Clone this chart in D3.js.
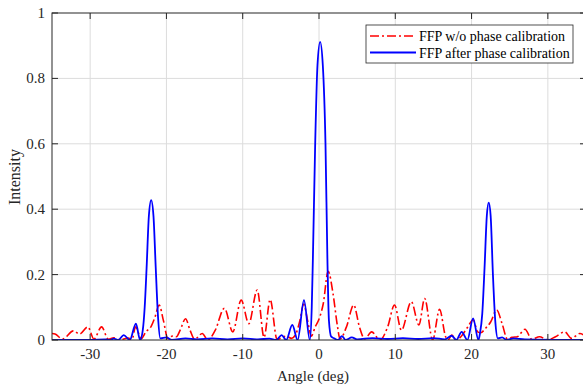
<!DOCTYPE html>
<html>
<head>
<meta charset="utf-8">
<script src="https://cdn.jsdelivr.net/npm/d3@7"></script>
<style>
  body { margin: 0; background: #fff; }
  svg { display: block; font-family: "Liberation Serif", "Times New Roman", serif; }
</style>
</head>
<body>
<div id="chart"></div>
<script>
// FFP w/o phase calibration (red, dash-dot)
const redAngles = [-35, -34.6, -33.6, -32.2, -31.4, -30.3, -29.5, -28.5, -27.6, -26.9, -26.2, -25.0, -24.5, -24.05, -23.3,
  -22.7, -22.0, -21.5, -20.95, -20.4, -19.8, -19.2, -18.7, -18.2, -17.5, -16.9, -16.3, -15.3, -14.6, -13.6, -12.4,
  -11.3, -10.2, -9.2, -8.1, -7.2, -6.4, -5.5, -4.3, -3.6, -3.0, -2.5, -2.0, -1.5, -1.0, -0.5, 0.1, 0.55, 1.2,
  1.85, 2.4, 2.75, 3.6, 4.55, 5.3, 6.0, 6.9, 8.0, 9.0, 9.9, 10.8, 12.1, 13.1, 13.85, 14.9, 15.8, 16.6, 16.9, 17.4,
  18.0, 18.6, 19.5, 20.2, 20.8, 21.2, 21.8, 22.5, 23.3, 24.0, 24.7, 25.3, 26.0, 27.0, 27.9, 28.9, 30.0, 31.0, 32.2,
  33.1, 34.2, 35];
const redValues = [0.02, 0.018, 0.003, 0.028, 0.018, 0.04, 0.003, 0.04, 0.002, 0.007, 0.0, 0.006, 0.002, 0.04, 0.004,
  0.025, 0.042, 0.07, 0.107, 0.06, 0.004, 0.012, 0.01, 0.03, 0.065, 0.03, 0.002, 0.02, 0.0, 0.03, 0.097,
  0.025, 0.122, 0.05, 0.153, 0.008, 0.124, 0.002, 0.012, 0.005, 0.02, 0.06, 0.11, 0.06, 0.012, 0.04, 0.07, 0.11, 0.21,
  0.14, 0.045, 0.003, 0.04, 0.107, 0.04, 0.003, 0.025, 0.0, 0.04, 0.107, 0.03, 0.117, 0.046, 0.127, 0.0, 0.094, 0.01, 0.0, 0.015,
  0.0, 0.01, 0.04, 0.062, 0.025, 0.022, 0.035, 0.055, 0.092, 0.05, 0.003, 0.008, 0.01, 0.033, 0.002, 0.01, 0.0, 0.01, 0.025,
  0.005, 0.02, 0.01];

// FFP after phase calibration (blue, solid)
const blueAngles = [-35, -30, -28.0, -27.4, -26.9, -26.3, -25.6, -24.8, -24.0, -23.45, -23.1, -22.85, -22.6, -22.3, -22.0,
  -21.7, -21.4, -21.1, -20.8, -20.0, -19.3, -17.5, -16.0, -14.0, -12.0, -10.0, -8.0, -6.5, -5.6, -4.9, -4.3, -3.5,
  -2.8, -1.97, -1.2, -0.95, -0.8, -0.5, -0.2, 0.15, 0.5, 0.85, 1.1, 1.3, 1.6, 2.0, 2.5, 3.0, 3.5, 4.3, 5.0, 7.0,
  9.0, 11.0, 13.0, 15.0, 16.5, 17.4, 18.0, 18.7, 19.45, 20.2, 20.9, 21.1, 21.4, 21.7, 22.0, 22.25, 22.5, 22.8,
  23.1, 23.45, 24.0, 24.6, 25.5, 27.0, 35];
const blueValues = [0.0, 0.0, 0.002, 0.0, 0.004, 0.0, 0.015, 0.0, 0.05, 0.0, 0.03, 0.1, 0.22, 0.38, 0.428,
  0.38, 0.22, 0.07, 0.005, 0.008, 0.0, 0.005, 0.002, 0.005, 0.002, 0.005, 0.002, 0.004, 0.0, 0.015, 0.0, 0.046,
  0.0, 0.122, 0.0, 0.1, 0.25, 0.6, 0.84, 0.912, 0.84, 0.6, 0.25, 0.06, 0.01, 0.005, 0.0, 0.012, 0.0, 0.008, 0.002, 0.006,
  0.003, 0.006, 0.003, 0.006, 0.002, 0.013, 0.0, 0.025, 0.0, 0.066, 0.0, 0.02, 0.08, 0.22, 0.38, 0.42, 0.38, 0.2,
  0.06, 0.005, 0.008, 0.0, 0.005, 0.002, 0.0];

const xTicks = [-30, -20, -10, 0, 10, 20, 30];
const yTicks = [0, 0.2, 0.4, 0.6, 0.8, 1];
const seriesNames = ["FFP w/o phase calibration", "FFP after phase calibration"];

const margin = { top: 13, right: -3, bottom: 47, left: 52 };
const W = 583, H = 387;
const width = W - margin.left - margin.right;
const height = H - margin.top - margin.bottom;

const svg = d3.select("#chart").append("svg")
  .attr("width", W)
  .attr("height", H);

svg.append("defs").append("clipPath").attr("id", "plotclip")
  .append("rect").attr("width", width).attr("height", height);

const g = svg.append("g")
  .attr("transform", "translate(" + margin.left + "," + margin.top + ")");

const x = d3.scaleLinear().domain([-35, 35]).range([0, width]);
const y = d3.scaleLinear().domain([0, 1]).range([height, 0]);

// grid
g.append("g").selectAll("line").data(xTicks).enter().append("line")
  .attr("x1", d => x(d)).attr("x2", d => x(d))
  .attr("y1", 0).attr("y2", height)
  .attr("stroke", "#dcdcdc").attr("stroke-width", 1);
g.append("g").selectAll("line").data(yTicks.slice(1, -1)).enter().append("line")
  .attr("x1", 0).attr("x2", width)
  .attr("y1", d => y(d)).attr("y2", d => y(d))
  .attr("stroke", "#dcdcdc").attr("stroke-width", 1);

const line = d3.line()
  .x(d => x(d[0]))
  .y(d => y(d[1]))
  .curve(d3.curveMonotoneX);

const redData = redAngles.map((a, i) => [a, redValues[i]]);
const blueData = blueAngles.map((a, i) => [a, blueValues[i]]);

const plot = g.append("g").attr("clip-path", "url(#plotclip)");
plot.append("path").datum(redData)
  .attr("d", line)
  .attr("fill", "none")
  .attr("stroke", "#ff0000")
  .attr("stroke-width", 1.6)
  .attr("stroke-dasharray", "9,3,2,3");
plot.append("path").datum(blueData)
  .attr("d", line)
  .attr("fill", "none")
  .attr("stroke", "#0000ff")
  .attr("stroke-width", 1.8);

// axes (ticks inside, box on)
const tick = 6;
const ax = g.append("g").attr("stroke", "#262626").attr("stroke-width", 1);
ax.append("rect").attr("x", 0).attr("y", 0).attr("width", width).attr("height", height)
  .attr("fill", "none");
xTicks.forEach(function(t) {
  ax.append("line").attr("x1", x(t)).attr("x2", x(t)).attr("y1", height).attr("y2", height - tick);
  ax.append("line").attr("x1", x(t)).attr("x2", x(t)).attr("y1", 0).attr("y2", tick);
});
yTicks.forEach(function(t) {
  ax.append("line").attr("x1", 0).attr("x2", tick).attr("y1", y(t)).attr("y2", y(t));
  ax.append("line").attr("x1", width).attr("x2", width - tick).attr("y1", y(t)).attr("y2", y(t));
});

g.append("g").selectAll("text").data(xTicks).enter().append("text")
  .attr("x", d => x(d))
  .attr("y", height + 19)
  .attr("text-anchor", "middle")
  .attr("font-size", 15)
  .attr("fill", "#262626")
  .text(d => d);
g.append("g").selectAll("text").data(yTicks).enter().append("text")
  .attr("x", -7)
  .attr("y", d => y(d) + 5)
  .attr("text-anchor", "end")
  .attr("font-size", 15)
  .attr("fill", "#262626")
  .text(d => d);

svg.append("text")
  .attr("x", 313).attr("y", 381)
  .attr("text-anchor", "middle")
  .attr("font-size", 15)
  .attr("fill", "#262626")
  .text("Angle (deg)");
svg.append("text")
  .attr("transform", "translate(20,177) rotate(-90)")
  .attr("text-anchor", "middle")
  .attr("font-size", 16)
  .attr("fill", "#262626")
  .text("Intensity");

// legend
const lg = svg.append("g").attr("transform", "translate(366,25)");
lg.append("rect").attr("width", 207).attr("height", 38)
  .attr("fill", "#fff").attr("stroke", "#262626").attr("stroke-width", 0.8);
const legendStyles = [
  { color: "#ff0000", dash: "9,3,2,3", w: 1.6 },
  { color: "#0000ff", dash: null, w: 1.8 }
];
seriesNames.forEach(function(name, i) {
  const yy = 11 + i * 16.5;
  lg.append("line").attr("x1", 4).attr("x2", 50).attr("y1", yy).attr("y2", yy)
    .attr("stroke", legendStyles[i].color)
    .attr("stroke-width", legendStyles[i].w)
    .attr("stroke-dasharray", legendStyles[i].dash);
  lg.append("text").attr("x", 53).attr("y", yy + 5)
    .attr("font-size", 14)
    .attr("fill", "#000")
    .text(name);
});
</script>
</body>
</html>
